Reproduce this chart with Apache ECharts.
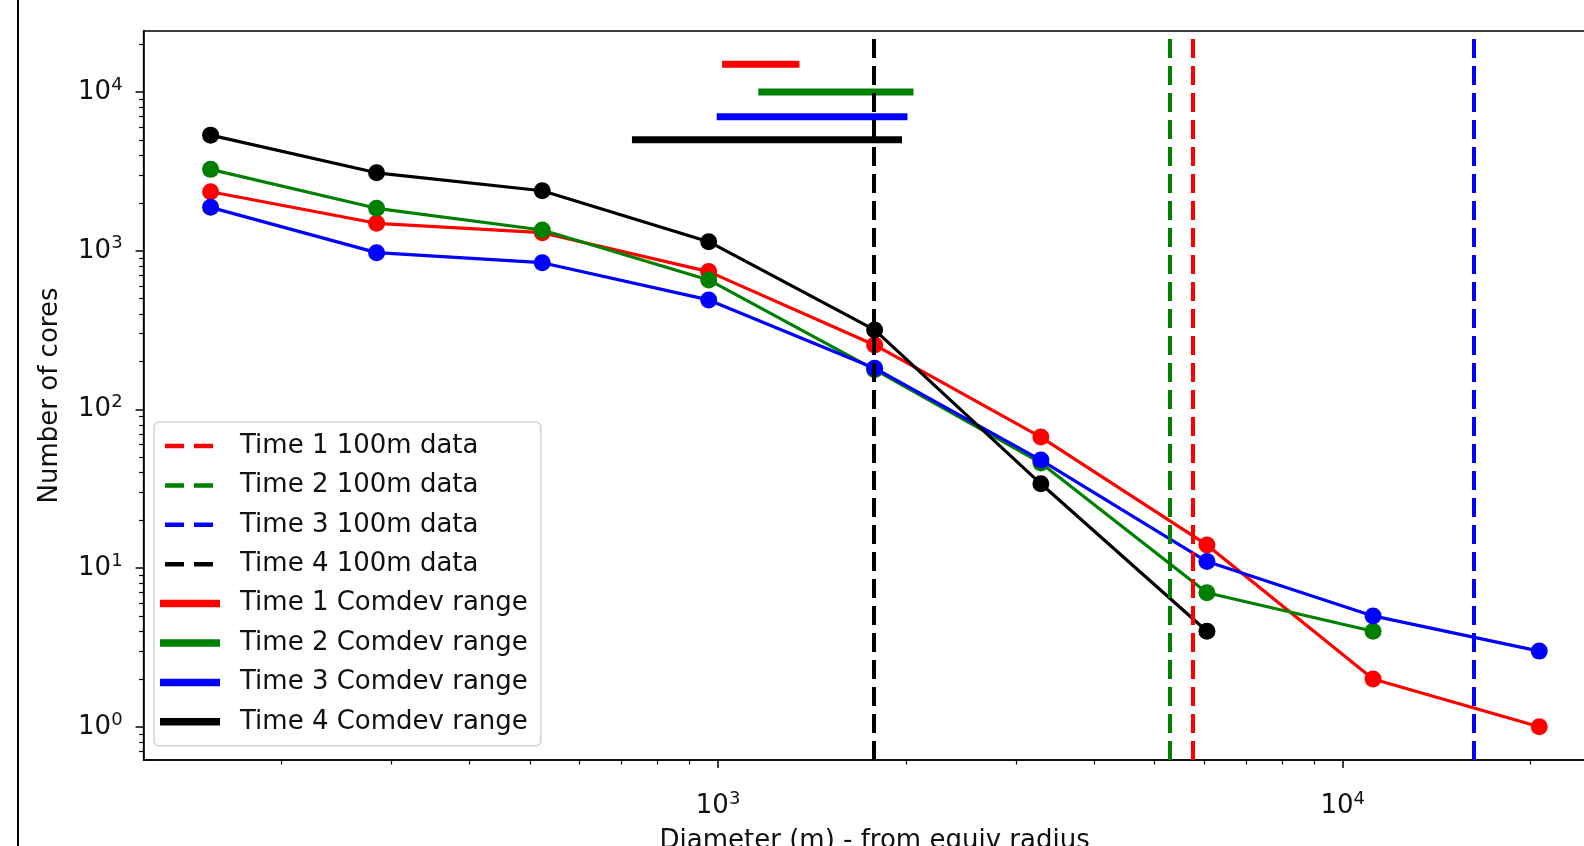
<!DOCTYPE html>
<html>
<head>
<meta charset="utf-8">
<style>
    html, body { margin: 0; padding: 0; background: #ffffff; }
    #chart { width: 1584px; height: 846px; }
</style>
<script src="https://cdn.jsdelivr.net/npm/echarts@6/dist/echarts.min.js"></script>
</head>
<body>
<div id="chart"></div>
<script>
// diameters (m) of the size bins
const diameters = [ 154, 284, 523, 966, 1781, 3287, 6063, 11185, 20640 ];

// number of cores per bin, one list per time
const time1Counts = [ 2354, 1490, 1300, 739, 255, 67, 14, 2, 1 ];
const time2Counts = [ 3258, 1852, 1352, 655, 178, 46, 7, 4 ];
const time3Counts = [ 1878, 973, 841, 490, 182, 48, 11, 5, 3 ];
const time4Counts = [ 5354, 3100, 2390, 1141, 317, 34, 4 ];

// 100m data limit (vertical dashed lines), time 1..4
const dataLimits = [ 5762, 5293, 16237, 1778 ];

// Comdev ranges (horizontal bars), time 1..4
const comdevStart = [ 1015, 1160, 995, 728 ];
const comdevEnd = [ 1350, 2055, 2010, 1970 ];
const comdevLevel = [ 15000, 10000, 7000, 5000 ];

const timeNames = [ 'Time 1', 'Time 2', 'Time 3', 'Time 4' ];
const colours = [ '#ff0000', '#008000', '#0000ff', '#000000' ];

// tick values
const xMajorTicks = [ 1000, 10000 ];
const xMinorTicks = [ 200, 300, 400, 500, 600, 700, 800, 900,
    2000, 3000, 4000, 5000, 6000, 7000, 8000, 9000, 20000 ];
const yMajorTicks = [ 1, 10, 100, 1000, 10000 ];
const yMinorTicks = [ 0.7, 0.8, 0.9,
    2, 3, 4, 5, 6, 7, 8, 9,
    20, 30, 40, 50, 60, 70, 80, 90,
    200, 300, 400, 500, 600, 700, 800, 900,
    2000, 3000, 4000, 5000, 6000, 7000, 8000, 9000, 20000 ];

( () => {
    const font = 'DejaVu Sans';
    const ink = '#111111';
    const allCounts = [ time1Counts, time2Counts, time3Counts, time4Counts ];

    // legend handles: two short dashes, or one thick bar
    const dashIcon = 'path://M0,0h0.01v0.01h-0.01z M5,1.5h19v4.5H5z M34,1.5h19v4.5H34z M59.99,7.49h0.01v0.01h-0.01z';
    const barIcon = 'path://M0,0h60v7.5H0z';

    const chart = echarts.init( document.getElementById( 'chart' ), null, { renderer: 'canvas' } );

    const powerLabel = ( value ) => '{b|10}{s|' + Math.round( Math.log10( value ) ) + '}';
    const powerRich = {
        b: { fontSize: 26, fontFamily: font, color: ink, lineHeight: 32 },
        s: { fontSize: 18, fontFamily: font, color: ink, verticalAlign: 'top', lineHeight: 32 },
    };

    const xRange = { min: 120.3, max: 26360 };
    const yRange = { min: 0.618, max: 24260 };

    const countSeries = allCounts.map( ( counts, i ) => ( {
        name: timeNames[ i ] + ' counts',
        type: 'line',
        data: counts.map( ( c, j ) => [ diameters[ j ], c ] ),
        symbol: 'circle',
        symbolSize: 17,
        color: colours[ i ],
        lineStyle: { width: 3.2, color: colours[ i ] },
        itemStyle: { color: colours[ i ] },
        z: 2 + i * 0.1,
        emphasis: { disabled: true },
    } ) );

    const rangeSeries = comdevLevel.map( ( level, i ) => ( {
        name: timeNames[ i ] + ' Comdev range',
        type: 'line',
        data: [ [ comdevStart[ i ], level ], [ comdevEnd[ i ], level ] ],
        symbol: 'none',
        color: colours[ i ],
        lineStyle: { width: 7, color: colours[ i ], cap: 'butt' },
        z: 3,
        emphasis: { disabled: true },
    } ) );

    const limitSeries = dataLimits.map( ( limit, i ) => ( {
        name: timeNames[ i ] + ' 100m data',
        type: 'line',
        data: [],
        symbol: 'none',
        color: colours[ i ],
        lineStyle: { width: 4, color: colours[ i ] },
        z: 4,
        markLine: {
            silent: true,
            animation: false,
            symbol: [ 'none', 'none' ],
            label: { show: false },
            lineStyle: { width: 4, color: colours[ i ], type: [ 19, 8 ] },
            emphasis: { disabled: true },
            data: [ { xAxis: limit } ],
        },
    } ) );

    const legendData = limitSeries.map( s => ( { name: s.name, icon: dashIcon } ) )
        .concat( rangeSeries.map( s => ( { name: s.name, icon: barIcon } ) ) );

    const option = {
        animation: false,
        backgroundColor: '#ffffff',
        graphic: [
            {
                type: 'line',
                shape: { x1: 18, y1: 0, x2: 18, y2: 846 },
                style: { stroke: '#000000', lineWidth: 2 },
            },
        ],
        grid: {
            left: 143.6,
            top: 31,
            width: 1462,
            height: 729,
            show: true,
            borderColor: '#000000',
            borderWidth: 1.5,
            containLabel: false,
            outerBoundsMode: 'none',
        },
        legend: {
            data: legendData,
            orient: 'vertical',
            left: 154,
            top: 422,
            padding: [ 10, 13, 10, 6 ],
            itemWidth: 60,
            itemHeight: 7.5,
            itemGap: 11.4,
            symbolKeepAspect: false,
            selectedMode: false,
            backgroundColor: 'rgba(255,255,255,0.8)',
            borderColor: '#d4d4d4',
            borderWidth: 1.5,
            borderRadius: 5,
            textStyle: {
                fontSize: 26,
                fontFamily: font,
                color: ink,
                lineHeight: 28,
                padding: [ 0, 0, 0, 15 ],
            },
        },
        xAxis: [
            {
                type: 'log',
                logBase: 10,
                min: xRange.min,
                max: xRange.max,
                position: 'bottom',
                name: 'Diameter (m) - from equiv radius',
                nameLocation: 'middle',
                nameGap: 68,
                nameTextStyle: { fontSize: 26, fontFamily: font, color: ink },
                axisLine: { lineStyle: { color: '#000000', width: 1.5 } },
                axisTick: { customValues: xMajorTicks, length: 8, lineStyle: { color: '#000000', width: 1.5 } },
                axisLabel: { customValues: xMajorTicks, margin: 30, formatter: powerLabel, rich: powerRich },
                splitLine: { show: false },
            },
            {
                type: 'log',
                logBase: 10,
                min: xRange.min,
                max: xRange.max,
                position: 'bottom',
                axisLine: { show: false },
                axisTick: { customValues: xMinorTicks, length: 4.5, lineStyle: { color: '#000000', width: 1.2 } },
                axisLabel: { show: false },
                splitLine: { show: false },
            },
        ],
        yAxis: [
            {
                type: 'log',
                logBase: 10,
                min: yRange.min,
                max: yRange.max,
                position: 'left',
                name: 'Number of cores',
                nameLocation: 'middle',
                nameGap: 80,
                nameTextStyle: { fontSize: 26, fontFamily: font, color: ink },
                axisLine: { lineStyle: { color: '#000000', width: 1.5 } },
                axisTick: { customValues: yMajorTicks, length: 8, lineStyle: { color: '#000000', width: 1.5 } },
                axisLabel: { customValues: yMajorTicks, margin: 21, formatter: powerLabel, rich: powerRich },
                splitLine: { show: false },
            },
            {
                type: 'log',
                logBase: 10,
                min: yRange.min,
                max: yRange.max,
                position: 'left',
                axisLine: { show: false },
                axisTick: { customValues: yMinorTicks, length: 4.5, lineStyle: { color: '#000000', width: 1.2 } },
                axisLabel: { show: false },
                splitLine: { show: false },
            },
        ],
        series: countSeries.concat( rangeSeries, limitSeries ),
    };

    chart.setOption( option );

    window.addEventListener( 'resize', () => {
        chart.resize();
    } );
} ) ();
</script>
</body>
</html>
